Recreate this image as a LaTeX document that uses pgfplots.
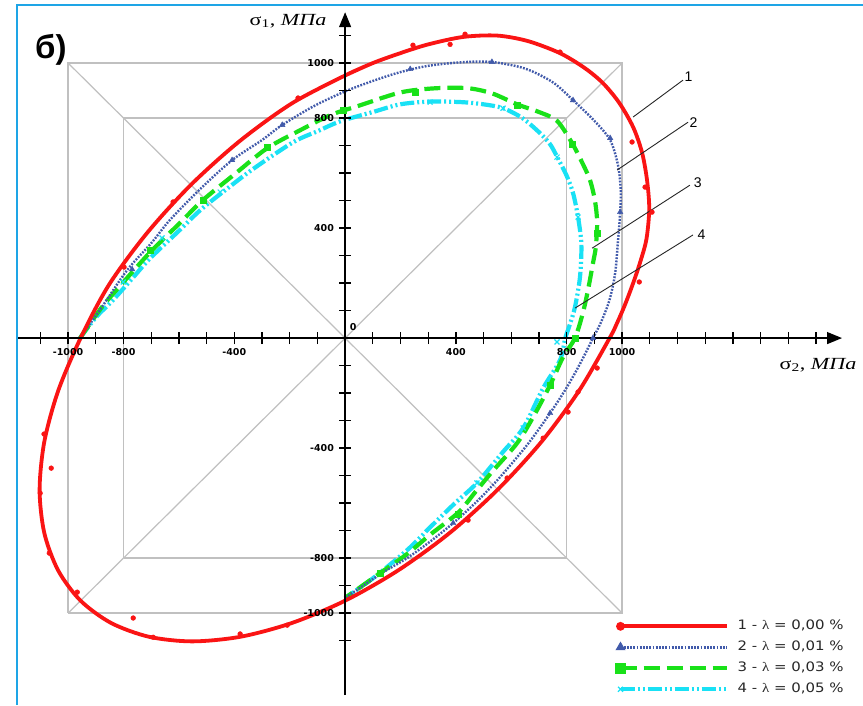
\documentclass[border=0pt]{standalone}
\usepackage{pgfplots}
\pgfplotsset{compat=1.18}
\usepackage{graphicx}
\usepackage{fontspec}
\usetikzlibrary{arrows.meta}
\setmainfont{DejaVu Sans}
\newfontfamily\serif{Liberation Serif}
\newfontfamily\arial{Liberation Sans}
\definecolor{cRed}{RGB}{250,20,20}
\definecolor{cBlue}{RGB}{65,90,170}
\definecolor{cGreen}{RGB}{25,225,25}
\definecolor{cCyan}{RGB}{25,225,245}
\definecolor{cGray}{RGB}{192,192,192}
\definecolor{cFrame}{RGB}{30,165,230}
\definecolor{cText}{RGB}{40,40,40}
\begin{document}
\begin{tikzpicture}[x=1pt,y=1pt]
\useasboundingbox (0,0) rectangle (863,-705);
\fill[white] (0,0) rectangle (863,-705);
\draw[cFrame, line width=2pt] (17,-705) -- (17,-5) -- (863,-5);
\begin{axis}[
  at={(18pt,-695pt)}, anchor=south west,
  scale only axis, width=824pt, height=682.8pt,
  xmin=-1181, xmax=1794, ymin=-1298, ymax=1185,
  axis lines=middle,
  axis line style={line width=1.3pt, black, -{Triangle[length=15pt,width=12pt]}},
  axis on top,
  clip=false,
  xtick={-1100,-1000,...,1700}, ytick={-1100,-1000,...,1100},
  xticklabels={}, yticklabels={},
  major tick length=12pt, tick align=center,
  tick style={line width=1.3pt, black},
  extra x ticks={-1000,-800,-400,400,800,1000},
  extra x tick labels={-1000,-800,-400,400,800,1000},
  extra y ticks={-1000,-800,-400,400,800,1000},
  extra y tick labels={-1000,-800,-400,400,800,1000},
  xticklabel style={anchor=north, inner sep=0pt, yshift=-4pt, font=\bfseries\fontsize{9.5}{11}\selectfont},
  yticklabel style={anchor=east, inner sep=0pt, xshift=-5pt, font=\bfseries\fontsize{9.5}{11}\selectfont},
  legend style={at={(axis cs:982,-1022)}, anchor=north west, draw=none, fill=none,
    inner sep=0pt, row sep=7pt, font=\fontsize{13}{14}\selectfont\color{cText},
    nodes={inner sep=0pt, text height=10pt, text depth=4pt},
    /tikz/every odd column/.append style={column sep=9pt}},
  legend cell align=left,
  legend image code/.code={\draw[mark repeat=2, mark phase=1, #1] plot coordinates {(0pt,0pt) (106pt,0pt)};},
]
% grey guide boxes
\addplot[cGray, line width=1.6pt, forget plot] coordinates {(-1000,-1000) (1000,-1000) (1000,1000) (-1000,1000) (-1000,-1000)};
\addplot[cGray, line width=1.6pt, forget plot] coordinates {(-800,-800) (800,-800) (800,800) (-800,800) (-800,-800)};
\addplot[cGray, line width=1.2pt, forget plot] coordinates {(-1000,-1000) (1000,1000)};
\addplot[cGray, line width=1.2pt, forget plot] coordinates {(-1000,1000) (1000,-1000)};

% legend images
\addlegendimage{cRed, line width=3.8pt, mark=*, mark size=2.4pt, mark options={solid}}
\addlegendentry{\scalebox{1.15}[1]{1 - {\serif λ} = 0,00 \%}}
\addlegendimage{cBlue, line width=2.4pt, dash pattern=on 1.8pt off 1.4pt, mark=triangle*, mark size=3.4pt, mark options={solid}}
\addlegendentry{\scalebox{1.15}[1]{2 - {\serif λ} = 0,01 \%}}
\addlegendimage{cGreen, line width=4.2pt, dash pattern=on 16pt off 7pt, mark=square*, mark size=3.2pt, mark options={solid}}
\addlegendentry{\scalebox{1.15}[1]{3 - {\serif λ} = 0,03 \%}}
\addlegendimage{cCyan, line width=4.2pt, dash pattern=on 14pt off 3pt on 2pt off 3pt on 2pt off 3pt, mark=x, mark size=3.5pt, mark options={solid, line width=1.2pt}}
\addlegendentry{\scalebox{1.15}[1]{4 - {\serif λ} = 0,05 \%}}

% curve 4 (cyan)
\addplot[cCyan, line width=4.2pt, dash pattern=on 14pt off 3pt on 2pt off 3pt on 2pt off 3pt, smooth, forget plot] coordinates {
(-957,0) (-900,75) (-838,138) (-770,215) (-704,290) (-600,390) (-523,465) (-430,540) (-332,615) (-188,712) (-100,752) (-18,788) (100,822) (199,850) (307,860) (420,858) (500,850) (570,836) (640,800) (704,745) (740,705) (765,660) (800,590) (823,527) (841,440) (853,340) (848,222) (830,113) (810,45) (795,0) (776,-80) (715,-182) (643,-327) (570,-414) (476,-527) (397,-600) (307,-688) (224,-771) (101,-873) (0,-945)};
\addplot[cCyan, only marks, mark=x, mark size=3.5pt, line width=1.2pt, forget plot] coordinates {
(-801,204) (-661,364) (-451,531) (307,858) (570,836) (765,658) (841,440) (765,-14) (643,-327) (476,-527)};

% curve 3 (green)
\addplot[cGreen, line width=4.2pt, dash pattern=on 16pt off 7pt, smooth, forget plot] coordinates {
(-957,0) (-880,110) (-812,190) (-704,312) (-600,415) (-513,502) (-400,595) (-282,690) (-162,756) (-50,812) (50,845) (199,893) (320,908) (440,909) (530,890) (621,850) (700,822) (765,790) (819,710) (855,640) (884,575) (902,500) (910,420) (905,330) (895,273) (877,175) (858,90) (830,0) (787,-69) (740,-171) (679,-287) (621,-382) (530,-487) (470,-560) (408,-635) (307,-715) (224,-785) (126,-855) (0,-945)};
\addplot[cGreen, only marks, mark=square*, mark size=2.8pt, forget plot] coordinates {
(-704,320) (-513,502) (-282,695) (-7,829) (253,895) (621,847) (819,705) (910,381) (830,0) (740,-171) (408,-640) (126,-855)};

% curve 2 (blue)
\addplot[cBlue, line width=2.4pt, dash pattern=on 1.8pt off 1.4pt, smooth, forget plot] coordinates {
(-957,0) (-880,110) (-787,247) (-700,345) (-632,430) (-520,545) (-408,647) (-300,720) (-227,775) (-110,845) (0,897) (100,935) (199,967) (300,990) (420,1003) (530,1004) (650,980) (750,930) (823,865) (900,790) (957,720) (985,630) (995,540) (993,455) (985,350) (975,236) (955,140) (925,60) (895,0) (850,-90) (800,-180) (740,-273) (660,-385) (560,-505) (480,-590) (390,-673) (307,-740) (224,-800) (140,-850) (79,-891) (0,-945)};
\addplot[cBlue, only marks, mark=triangle*, mark size=3.2pt, forget plot] coordinates {
(-769,250) (-408,647) (-227,775) (235,978) (530,1004) (823,865) (957,727) (993,458) (895,0) (740,-273) (390,-673)};

% curve 1 (red)
\addplot[cRed, line width=3.8pt, smooth, forget plot] coordinates {
(0,955) (100,1000) (199,1036) (300,1068) (426,1095) (549,1100) (660,1080) (776,1036) (865,982) (931,927) (990,855) (1040,767) (1072,675) (1090,575) (1098,470) (1088,360) (1065,275) (1040,200) (1010,120) (982,55) (955,0) (845,-191) (709,-377) (551,-551) (377,-709) (191,-845) (0,-955) (-192,-1036) (-377,-1086) (-552,-1103) (-709,-1086) (-845,-1036) (-955,-955) (-1036,-845) (-1086,-709) (-1103,-552) (-1086,-377) (-1036,-192) (-955,0) (-853,193) (-716,381) (-557,557) (-381,716) (-193,853) (0,955) (100,1000)};
\addplot[cRed, only marks, mark=*, mark size=2.4pt, forget plot] coordinates {
(245,1065) (379,1068) (433,1105) (776,1040) (1036,713) (1083,549) (1108,458) (1062,204) (910,-109) (841,-196) (805,-269) (715,-364) (585,-509) (444,-662) (-209,-1044) (-379,-1076) (-693,-1088) (-765,-1018) (-967,-924) (-1068,-782) (-1101,-564) (-1061,-473) (-1087,-349) (-798,258) (-621,495) (-170,873)};

% leader lines and numbers
\draw[black!85, line width=0.9pt] (axis cs:1040,804) -- (axis cs:1220,938);
\draw[black!85, line width=0.9pt] (axis cs:982,611) -- (axis cs:1238,785);
\draw[black!85, line width=0.9pt] (axis cs:892,327) -- (axis cs:1245,556);
\draw[black!85, line width=0.9pt] (axis cs:830,109) -- (axis cs:1256,375);
\node[font=\arial\fontsize{14}{14}\selectfont] at (axis cs:1240,949) {1};
\node[font=\arial\fontsize{14}{14}\selectfont] at (axis cs:1258,782) {2};
\node[font=\arial\fontsize{14}{14}\selectfont] at (axis cs:1273,564) {3};
\node[font=\arial\fontsize{14}{14}\selectfont] at (axis cs:1287,375) {4};
\node[font=\bfseries\fontsize{9.5}{11}\selectfont, inner sep=0pt] at (axis cs:29,40) {0};
\end{axis}
\node[anchor=base, inner sep=0pt, font=\serif\fontsize{17}{17}\selectfont] at (288,-25) {\scalebox{1.3}[1]{σ\textsubscript{1}, \textit{МПа}}};
\node[anchor=base, inner sep=0pt, font=\serif\fontsize{17}{17}\selectfont] at (818,-369) {\scalebox{1.3}[1]{σ\textsubscript{2}, \textit{МПа}}};
\node[anchor=base west, inner sep=0pt, font=\arial\bfseries\fontsize{33}{33}\selectfont] at (35,-58) {б)};
\end{tikzpicture}
\end{document}
